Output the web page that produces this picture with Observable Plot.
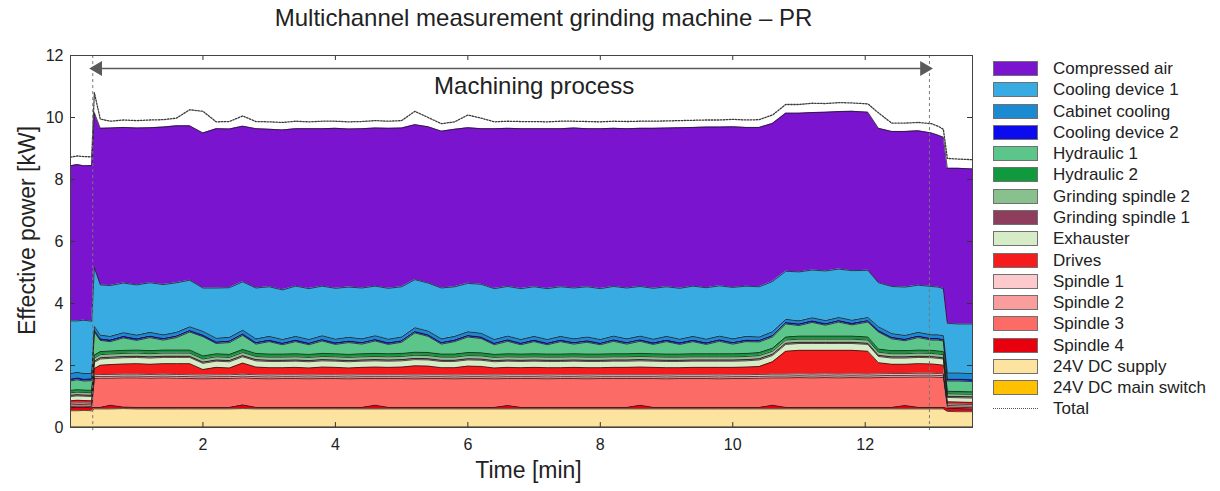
<!DOCTYPE html>
<html>
<head>
<meta charset="utf-8">
<script src="https://cdn.jsdelivr.net/npm/d3@7"></script>
<script src="https://cdn.jsdelivr.net/npm/@observablehq/plot@0.6"></script>
<style>
  body { margin: 0; background: #fff; font-family: "Liberation Sans", Arial, sans-serif; }
  #wrap { position: relative; width: 1220px; height: 491px; overflow: hidden; }
  #chart { position: absolute; left: 0; top: 0; }
  #legend { position: absolute; left: 993px; top: 58px; }
  .row { display: flex; align-items: center; height: 21.27px; }
  .sw { width: 45px; height: 15px; border: 1px solid #707070; box-sizing: border-box; margin-right: 15px; flex: none; }
  .sw.total { height: 0; border: none; border-top: 1.5px dotted #555; }
  .lab { font-size: 17px; color: #222; white-space: nowrap; line-height: 1; }
</style>
</head>
<body>
<div id="wrap"><div id="chart"></div><div id="legend"></div></div>
<script>
// Sample times [min]
const time = [
  0, 0.1, 0.2, 0.32, 0.36, 0.45, 0.6, 0.8, 1.0, 1.2,
  1.4, 1.6, 1.8, 2.0, 2.2, 2.4, 2.6, 2.8, 3.0, 3.2,
  3.4, 3.6, 3.8, 4.0, 4.2, 4.4, 4.6, 4.8, 5.0, 5.2,
  5.4, 5.6, 5.8, 6.0, 6.2, 6.4, 6.6, 6.8, 7.0, 7.2,
  7.4, 7.6, 7.8, 8.0, 8.2, 8.4, 8.6, 8.8, 9.0, 9.2,
  9.4, 9.6, 9.8, 10.0, 10.2, 10.4, 10.6, 10.8, 11.0, 11.2,
  11.4, 11.6, 11.8, 12.04, 12.2, 12.4, 12.6, 12.8, 13.0, 13.1,
  13.18, 13.24, 13.4, 13.62
];

// Effective power per channel [kW]
const mainSwitch24V = [
  0.02, 0.02, 0.02, 0.02, 0.02, 0.02, 0.02, 0.02, 0.02, 0.02,
  0.02, 0.02, 0.02, 0.02, 0.02, 0.02, 0.02, 0.02, 0.02, 0.02,
  0.02, 0.02, 0.02, 0.02, 0.02, 0.02, 0.02, 0.02, 0.02, 0.02,
  0.02, 0.02, 0.02, 0.02, 0.02, 0.02, 0.02, 0.02, 0.02, 0.02,
  0.02, 0.02, 0.02, 0.02, 0.02, 0.02, 0.02, 0.02, 0.02, 0.02,
  0.02, 0.02, 0.02, 0.02, 0.02, 0.02, 0.02, 0.02, 0.02, 0.02,
  0.02, 0.02, 0.02, 0.02, 0.02, 0.02, 0.02, 0.02, 0.02, 0.02,
  0.02, 0.02, 0.02, 0.02
];
const supply24V = [
  0.52, 0.52, 0.53, 0.52, 0.58, 0.58, 0.58, 0.59, 0.58, 0.58,
  0.58, 0.58, 0.58, 0.58, 0.58, 0.58, 0.59, 0.58, 0.58, 0.58,
  0.58, 0.58, 0.58, 0.58, 0.58, 0.58, 0.58, 0.58, 0.58, 0.58,
  0.58, 0.58, 0.58, 0.58, 0.58, 0.58, 0.58, 0.58, 0.58, 0.58,
  0.58, 0.58, 0.58, 0.58, 0.58, 0.58, 0.58, 0.58, 0.58, 0.58,
  0.58, 0.58, 0.58, 0.58, 0.58, 0.58, 0.58, 0.58, 0.58, 0.58,
  0.58, 0.58, 0.58, 0.58, 0.58, 0.58, 0.58, 0.58, 0.58, 0.58,
  0.58, 0.50, 0.49, 0.49
];
const spindle4 = [
  0.10, 0.11, 0.10, 0.10, 0.05, 0.05, 0.12, 0.05, 0.05, 0.05,
  0.05, 0.05, 0.05, 0.05, 0.05, 0.05, 0.12, 0.05, 0.05, 0.05,
  0.05, 0.05, 0.05, 0.05, 0.05, 0.05, 0.12, 0.05, 0.05, 0.05,
  0.05, 0.05, 0.05, 0.05, 0.05, 0.05, 0.11, 0.05, 0.05, 0.05,
  0.05, 0.05, 0.05, 0.05, 0.05, 0.05, 0.12, 0.05, 0.05, 0.05,
  0.05, 0.05, 0.05, 0.05, 0.05, 0.05, 0.12, 0.05, 0.05, 0.05,
  0.05, 0.05, 0.05, 0.05, 0.05, 0.05, 0.11, 0.05, 0.05, 0.05,
  0.05, 0.10, 0.10, 0.09
];
const spindle3 = [
  0.04, 0.04, 0.04, 0.04, 0.93, 0.94, 0.87, 0.94, 0.95, 0.94,
  0.95, 0.94, 0.93, 0.92, 0.93, 0.93, 0.87, 0.93, 0.92, 0.93,
  0.93, 0.92, 0.93, 0.93, 0.92, 0.93, 0.86, 0.93, 0.93, 0.92,
  0.93, 0.93, 0.92, 0.93, 0.93, 0.92, 0.87, 0.93, 0.93, 0.92,
  0.93, 0.93, 0.92, 0.93, 0.93, 0.93, 0.86, 0.93, 0.92, 0.93,
  0.93, 0.93, 0.92, 0.93, 0.93, 0.94, 0.88, 0.95, 0.96, 0.95,
  0.96, 0.95, 0.96, 0.95, 0.96, 0.97, 0.91, 0.98, 0.98, 0.97,
  0.96, 0.04, 0.04, 0.04
];
const spindle2 = [
  0.05, 0.05, 0.05, 0.05, 0.06, 0.06, 0.06, 0.06, 0.06, 0.06,
  0.06, 0.06, 0.06, 0.06, 0.06, 0.06, 0.06, 0.06, 0.06, 0.06,
  0.06, 0.06, 0.06, 0.06, 0.06, 0.06, 0.06, 0.06, 0.06, 0.06,
  0.06, 0.06, 0.06, 0.06, 0.06, 0.06, 0.06, 0.06, 0.06, 0.06,
  0.06, 0.06, 0.06, 0.06, 0.06, 0.06, 0.06, 0.06, 0.06, 0.06,
  0.06, 0.06, 0.06, 0.06, 0.06, 0.06, 0.06, 0.06, 0.06, 0.06,
  0.06, 0.06, 0.06, 0.06, 0.06, 0.06, 0.06, 0.06, 0.06, 0.06,
  0.06, 0.05, 0.05, 0.05
];
const spindle1 = [
  0.05, 0.05, 0.05, 0.05, 0.06, 0.06, 0.06, 0.06, 0.06, 0.06,
  0.06, 0.06, 0.06, 0.06, 0.06, 0.06, 0.06, 0.06, 0.06, 0.06,
  0.06, 0.06, 0.06, 0.06, 0.06, 0.06, 0.06, 0.06, 0.06, 0.06,
  0.06, 0.06, 0.06, 0.06, 0.06, 0.06, 0.06, 0.06, 0.06, 0.06,
  0.06, 0.06, 0.06, 0.06, 0.06, 0.06, 0.06, 0.06, 0.06, 0.06,
  0.06, 0.06, 0.06, 0.06, 0.06, 0.06, 0.06, 0.06, 0.06, 0.06,
  0.06, 0.06, 0.06, 0.06, 0.06, 0.06, 0.06, 0.06, 0.06, 0.06,
  0.06, 0.05, 0.05, 0.05
];
const drives = [
  0.08, 0.09, 0.08, 0.08, 0.20, 0.30, 0.32, 0.33, 0.34, 0.33,
  0.34, 0.35, 0.36, 0.18, 0.24, 0.22, 0.36, 0.25, 0.24, 0.23,
  0.24, 0.23, 0.25, 0.24, 0.23, 0.24, 0.25, 0.24, 0.25, 0.30,
  0.28, 0.23, 0.24, 0.28, 0.27, 0.23, 0.24, 0.23, 0.24, 0.24,
  0.23, 0.24, 0.24, 0.23, 0.24, 0.24, 0.25, 0.24, 0.24, 0.23,
  0.24, 0.24, 0.25, 0.24, 0.25, 0.26, 0.40, 0.74, 0.76, 0.77,
  0.76, 0.77, 0.76, 0.74, 0.36, 0.30, 0.30, 0.31, 0.30, 0.29,
  0.28, 0.07, 0.07, 0.07
];
const exhauster = [
  0.14, 0.14, 0.14, 0.14, 0.20, 0.20, 0.20, 0.20, 0.20, 0.20,
  0.20, 0.20, 0.20, 0.20, 0.20, 0.20, 0.20, 0.20, 0.20, 0.20,
  0.20, 0.20, 0.20, 0.20, 0.20, 0.20, 0.20, 0.20, 0.20, 0.20,
  0.20, 0.20, 0.20, 0.20, 0.20, 0.20, 0.20, 0.20, 0.20, 0.20,
  0.20, 0.20, 0.20, 0.20, 0.20, 0.20, 0.20, 0.20, 0.20, 0.20,
  0.20, 0.20, 0.20, 0.20, 0.20, 0.21, 0.20, 0.22, 0.22, 0.22,
  0.22, 0.22, 0.22, 0.22, 0.20, 0.20, 0.20, 0.20, 0.20, 0.20,
  0.20, 0.14, 0.14, 0.14
];
const grindingSpindle1 = [
  0.04, 0.04, 0.04, 0.04, 0.04, 0.04, 0.04, 0.04, 0.04, 0.04,
  0.04, 0.04, 0.04, 0.04, 0.04, 0.04, 0.04, 0.04, 0.04, 0.04,
  0.04, 0.04, 0.04, 0.04, 0.04, 0.04, 0.04, 0.04, 0.04, 0.04,
  0.04, 0.04, 0.04, 0.04, 0.04, 0.04, 0.04, 0.04, 0.04, 0.04,
  0.04, 0.04, 0.04, 0.04, 0.04, 0.04, 0.04, 0.04, 0.04, 0.04,
  0.04, 0.04, 0.04, 0.04, 0.04, 0.04, 0.04, 0.04, 0.04, 0.04,
  0.04, 0.04, 0.04, 0.04, 0.04, 0.04, 0.04, 0.04, 0.04, 0.04,
  0.04, 0.04, 0.04, 0.04
];
const grindingSpindle2 = [
  0.08, 0.08, 0.08, 0.08, 0.10, 0.10, 0.10, 0.10, 0.10, 0.10,
  0.10, 0.10, 0.10, 0.10, 0.10, 0.10, 0.10, 0.10, 0.10, 0.10,
  0.10, 0.10, 0.10, 0.10, 0.10, 0.10, 0.10, 0.10, 0.10, 0.10,
  0.10, 0.10, 0.10, 0.10, 0.10, 0.10, 0.10, 0.10, 0.10, 0.10,
  0.10, 0.10, 0.10, 0.10, 0.10, 0.10, 0.10, 0.10, 0.10, 0.10,
  0.10, 0.10, 0.10, 0.10, 0.10, 0.10, 0.10, 0.10, 0.10, 0.10,
  0.10, 0.10, 0.10, 0.10, 0.10, 0.10, 0.10, 0.10, 0.10, 0.10,
  0.10, 0.08, 0.08, 0.08
];
const hydraulic2 = [
  0.08, 0.08, 0.08, 0.08, 0.10, 0.10, 0.10, 0.10, 0.10, 0.10,
  0.10, 0.10, 0.10, 0.10, 0.10, 0.10, 0.10, 0.10, 0.10, 0.10,
  0.10, 0.10, 0.10, 0.10, 0.10, 0.10, 0.10, 0.10, 0.10, 0.10,
  0.10, 0.10, 0.10, 0.10, 0.10, 0.10, 0.10, 0.10, 0.10, 0.10,
  0.10, 0.10, 0.10, 0.10, 0.10, 0.10, 0.10, 0.10, 0.10, 0.10,
  0.10, 0.10, 0.10, 0.10, 0.10, 0.10, 0.10, 0.10, 0.10, 0.10,
  0.10, 0.10, 0.10, 0.10, 0.10, 0.10, 0.10, 0.10, 0.10, 0.10,
  0.10, 0.08, 0.08, 0.08
];
const hydraulic1 = [
  0.30, 0.32, 0.29, 0.31, 0.75, 0.36, 0.30, 0.40, 0.31, 0.42,
  0.32, 0.40, 0.58, 0.62, 0.33, 0.38, 0.45, 0.30, 0.40, 0.30,
  0.39, 0.31, 0.40, 0.30, 0.38, 0.31, 0.40, 0.30, 0.36, 0.62,
  0.52, 0.32, 0.40, 0.50, 0.46, 0.31, 0.40, 0.30, 0.39, 0.30,
  0.40, 0.31, 0.38, 0.30, 0.40, 0.31, 0.39, 0.30, 0.40, 0.31,
  0.39, 0.30, 0.40, 0.31, 0.38, 0.34, 0.36, 0.42, 0.34, 0.44,
  0.35, 0.45, 0.36, 0.48, 0.55, 0.38, 0.32, 0.40, 0.33, 0.35,
  0.34, 0.33, 0.34, 0.33
];
const coolingDevice2 = [
  0.06, 0.06, 0.06, 0.06, 0.05, 0.05, 0.05, 0.05, 0.05, 0.05,
  0.05, 0.05, 0.05, 0.05, 0.05, 0.05, 0.05, 0.05, 0.05, 0.05,
  0.05, 0.05, 0.05, 0.05, 0.05, 0.05, 0.05, 0.05, 0.05, 0.05,
  0.05, 0.05, 0.05, 0.05, 0.05, 0.05, 0.05, 0.05, 0.05, 0.05,
  0.05, 0.05, 0.05, 0.05, 0.05, 0.05, 0.05, 0.05, 0.05, 0.05,
  0.05, 0.05, 0.05, 0.05, 0.05, 0.05, 0.05, 0.05, 0.05, 0.05,
  0.05, 0.05, 0.05, 0.05, 0.05, 0.05, 0.05, 0.05, 0.05, 0.05,
  0.05, 0.06, 0.06, 0.06
];
const cabinetCooling = [
  0.18, 0.18, 0.18, 0.18, 0.12, 0.12, 0.12, 0.12, 0.12, 0.12,
  0.12, 0.12, 0.12, 0.12, 0.12, 0.12, 0.12, 0.12, 0.12, 0.12,
  0.12, 0.12, 0.12, 0.12, 0.12, 0.12, 0.12, 0.12, 0.12, 0.12,
  0.12, 0.12, 0.12, 0.12, 0.12, 0.12, 0.12, 0.12, 0.12, 0.12,
  0.12, 0.12, 0.12, 0.12, 0.12, 0.12, 0.12, 0.12, 0.12, 0.12,
  0.12, 0.12, 0.12, 0.12, 0.12, 0.11, 0.12, 0.10, 0.10, 0.10,
  0.10, 0.10, 0.10, 0.10, 0.12, 0.12, 0.12, 0.12, 0.12, 0.12,
  0.12, 0.20, 0.20, 0.20
];
const coolingDevice1 = [
  1.70, 1.66, 1.72, 1.68, 1.90, 1.62, 1.64, 1.60, 1.62, 1.60,
  1.62, 1.60, 1.50, 1.40, 1.62, 1.60, 1.56, 1.64, 1.60, 1.60,
  1.62, 1.64, 1.60, 1.64, 1.62, 1.64, 1.60, 1.64, 1.62, 1.55,
  1.55, 1.64, 1.60, 1.56, 1.58, 1.64, 1.60, 1.64, 1.60, 1.64,
  1.60, 1.64, 1.62, 1.64, 1.60, 1.64, 1.60, 1.64, 1.60, 1.64,
  1.62, 1.66, 1.62, 1.66, 1.62, 1.62, 1.62, 1.55, 1.58, 1.54,
  1.60, 1.56, 1.60, 1.52, 1.42, 1.52, 1.56, 1.52, 1.56, 1.54,
  1.52, 1.60, 1.58, 1.60
];
const compressedAir = [
  5.00, 5.04, 4.98, 5.02, 5.00, 5.05, 5.08, 5.02, 5.06, 5.00,
  5.08, 5.06, 4.98, 5.00, 5.14, 5.12, 5.02, 5.14, 5.08, 5.16,
  5.08, 5.16, 5.08, 5.16, 5.10, 5.14, 5.10, 5.16, 5.12, 5.00,
  5.04, 5.06, 5.08, 5.02, 5.02, 5.16, 5.10, 5.16, 5.10, 5.16,
  5.10, 5.16, 5.10, 5.16, 5.10, 5.14, 5.10, 5.16, 5.12, 5.18,
  5.12, 5.18, 5.12, 5.18, 5.12, 5.14, 5.10, 5.10, 5.12, 5.08,
  5.12, 5.08, 5.14, 5.10, 4.98, 5.00, 5.02, 4.98, 4.95, 4.90,
  4.88, 5.00, 5.02, 5.00
];
const totalPower = [
  8.72, 8.76, 8.74, 8.73, 10.80, 9.95, 9.88, 9.92, 9.90, 9.92,
  9.93, 9.98, 10.25, 10.20, 9.86, 9.87, 10.05, 9.87, 9.86, 9.84,
  9.88, 9.86, 9.88, 9.88, 9.86, 9.87, 9.90, 9.88, 9.90, 10.20,
  10.00, 9.80, 9.86, 10.08, 9.98, 9.86, 9.88, 9.87, 9.87, 9.86,
  9.88, 9.88, 9.87, 9.86, 9.88, 9.87, 9.88, 9.88, 9.89, 9.90,
  9.91, 9.92, 9.92, 9.94, 9.92, 9.93, 10.08, 10.42, 10.42, 10.46,
  10.45, 10.48, 10.47, 10.44, 10.15, 9.82, 9.82, 9.84, 9.80, 9.72,
  9.62, 8.68, 8.66, 8.64
];

// Channels stacked from the bottom up
const channelNames = [
  "24V DC main switch", "24V DC supply", "Spindle 4", "Spindle 3", "Spindle 2", "Spindle 1",
  "Drives", "Exhauster", "Grinding spindle 1", "Grinding spindle 2", "Hydraulic 2", "Hydraulic 1",
  "Cooling device 2", "Cabinet cooling", "Cooling device 1", "Compressed air"
];
const channelValues = [
  mainSwitch24V, supply24V, spindle4, spindle3, spindle2, spindle1,
  drives, exhauster, grindingSpindle1, grindingSpindle2, hydraulic2, hydraulic1,
  coolingDevice2, cabinetCooling, coolingDevice1, compressedAir
];
const channelColors = [
  "#ffc000", "#fde3a0", "#e8000e", "#fd6b66", "#fa9d9d", "#fcc9cd",
  "#f41c1c", "#d6ecc7", "#8e3d5c", "#88c08e", "#109a3d", "#5cc58a",
  "#0b0bee", "#1b8ad0", "#37abe2", "#7b14cf"
];

// Machining window (start/end of the process) and axis ticks
const machiningStart = 0.336, machiningEnd = 12.97;
const xTicks = [2, 4, 6, 8, 10, 12];
const yTicks = [0, 2, 4, 6, 8, 10, 12];
const xMax = 13.62, yMax = 12;

const rows = channelNames.flatMap((name, k) =>
  time.map((t, i) => ({t, kW: channelValues[k][i], name})));
const totalRows = time.map((t, i) => ({t, kW: totalPower[i]}));

const tickColor = "#333";
const chart = Plot.plot({
  width: 980,
  height: 491,
  marginLeft: 70,
  marginRight: 8,
  marginTop: 55,
  marginBottom: 64,
  x: {domain: [0, xMax]},
  y: {domain: [0, yMax]},
  color: {domain: channelNames, range: channelColors},
  style: {fontFamily: "'Liberation Sans', Arial, sans-serif", color: "#222", background: "#fff"},
  marks: [
    Plot.areaY(rows, {x: "t", y: "kW", z: "name", fill: "name", order: channelNames}),
    Plot.lineY(rows, Plot.stackY2({x: "t", y: "kW", z: "name", order: channelNames,
      stroke: "#1b1b1b", strokeWidth: 0.9, strokeOpacity: 0.85})),
    Plot.lineY(totalRows, {x: "t", y: "kW", stroke: "#3a3a3a", strokeWidth: 1.3, strokeDasharray: "1.5 1.5"}),
    // machining window markers
    Plot.ruleX([machiningStart, machiningEnd], {y1: -0.1, y2: yMax, stroke: "#777", strokeDasharray: "3 3", strokeWidth: 1}),
    Plot.ruleY([11.58], {x1: machiningStart + 0.1, x2: machiningEnd - 0.1, stroke: "#5a5a5a", strokeWidth: 1.5}),
    Plot.dot([machiningStart], {x: d => d, y: 11.58, symbol: "triangle", r: 5.5, rotate: -90, dx: 5, fill: "#5a5a5a", stroke: "none"}),
    Plot.dot([machiningEnd], {x: d => d, y: 11.58, symbol: "triangle", r: 5.5, rotate: 90, dx: -5, fill: "#5a5a5a", stroke: "none"}),
    Plot.text(["Machining process"], {x: 7.0, y: 11.0, text: d => d, fontSize: 24, fill: "#222"}),
    // inward tick marks on all four sides
    Plot.ruleX(xTicks, {y1: 0, y2: 0.16, stroke: tickColor}),
    Plot.ruleX(xTicks, {y1: yMax - 0.16, y2: yMax, stroke: tickColor}),
    Plot.ruleY(yTicks, {x1: 0, x2: 0.075, stroke: tickColor}),
    Plot.ruleY(yTicks, {x1: xMax - 0.075, x2: xMax, stroke: tickColor}),
    Plot.frame({stroke: "#444", strokeWidth: 1}),
    Plot.axisX(xTicks, {tickSize: 0, tickPadding: 11, fontSize: 16, label: null, fill: "#222"}),
    Plot.axisY(yTicks, {tickSize: 0, tickPadding: 7, fontSize: 16, label: null, fill: "#222"}),
    Plot.text(["Time [min]"], {frameAnchor: "bottom", lineAnchor: "middle", dx: 7, dy: 43, text: d => d, fontSize: 23, fill: "#222"}),
    Plot.text(["Effective power [kW]"], {frameAnchor: "left", textAnchor: "middle", lineAnchor: "middle", dx: -43, dy: -11, rotate: -90, text: d => d, fontSize: 23, fill: "#222"}),
    Plot.text(["Multichannel measurement grinding machine \u2013 PR"], {frameAnchor: "top", lineAnchor: "middle", dx: 22, dy: -37, text: d => d, fontSize: 24, fill: "#222"})
  ]
});
document.getElementById("chart").append(chart);

// Legend: top entry is the topmost layer
const legend = document.getElementById("legend");
for (let k = channelNames.length - 1; k >= 0; --k) {
  const row = document.createElement("div");
  row.className = "row";
  row.innerHTML = `<span class="sw" style="background:${channelColors[k]}"></span><span class="lab">${channelNames[k]}</span>`;
  legend.append(row);
}
const totalRow = document.createElement("div");
totalRow.className = "row";
totalRow.innerHTML = `<span class="sw total"></span><span class="lab">Total</span>`;
legend.append(totalRow);
</script>
</body>
</html>
